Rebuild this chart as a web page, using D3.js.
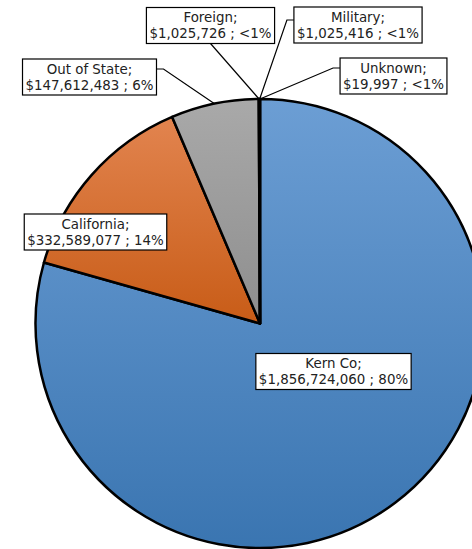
<!DOCTYPE html>
<html>
<head>
<meta charset="utf-8">
<script src="https://cdn.jsdelivr.net/npm/d3@7"></script>
<style>
  html, body { margin: 0; padding: 0; background: #fff; }
  svg { display: block; }
  text { font-family: "DejaVu Sans", sans-serif; font-size: 13.4px; fill: #222; }
</style>
</head>
<body>
<svg id="chart" width="472" height="549"></svg>
<script>
// Revenue by origin
const categories = ["Kern Co", "California", "Out of State", "Foreign", "Military", "Unknown"];
const amounts = [1856724060, 332589077, 147612483, 1025726, 1025416, 19997];
const shareLabels = ["80%", "14%", "6%", "<1%", "<1%", "<1%"];

// Slice fills: top and bottom stops of each vertical gradient
const gradientTop = ["#6c9ed4", "#e2844f", "#a9a9a9", "#6c9ed4", "#6c9ed4", "#6c9ed4"];
const gradientBottom = ["#3a75b1", "#c85c17", "#8e8e8e", "#3a75b1", "#3a75b1", "#3a75b1"];

// Label box placement: center, leader side and leader offset
const labelLayout = [
  { cx: 333.5, cy: 371.5, side: "none" },
  { cx: 95.5,  cy: 232,   side: "none" },
  { cx: 89.5,  cy: 77,    side: "right", dy: -8 },
  { cx: 210.5, cy: 25.5,  side: "bottom" },
  { cx: 358,   cy: 25,    side: "left", dy: -5 },
  { cx: 393.5, cy: 76,    side: "left", dy: -8 }
];

const svg = d3.select("#chart");
const cx = 260, cy = 323.5, radius = 224.5;

const fmt = d3.format("$,");
const data = categories.map((c, i) => ({ name: c, value: amounts[i], share: shareLabels[i], i }));

const pie = d3.pie().sort(null).value(d => d.value).startAngle(0).endAngle(2 * Math.PI);
const arcs = pie(data);
const arc = d3.arc().innerRadius(0).outerRadius(radius);

const defs = svg.append("defs");
data.forEach((d, i) => {
  const g = defs.append("linearGradient")
    .attr("id", "grad" + i)
    .attr("x1", 0).attr("y1", 0).attr("x2", 0).attr("y2", 1);
  g.append("stop").attr("offset", "0%").attr("stop-color", gradientTop[i]);
  g.append("stop").attr("offset", "100%").attr("stop-color", gradientBottom[i]);
});

const pieG = svg.append("g").attr("transform", `translate(${cx},${cy})`);
pieG.selectAll("path.slice")
  .data(arcs)
  .join("path")
  .attr("class", "slice")
  .attr("d", arc)
  .attr("fill", d => `url(#grad${d.data.i})`)
  .attr("stroke", "#000")
  .attr("stroke-width", 2.5)
  .attr("stroke-linejoin", "round");

// Labels
const labelG = svg.append("g");
const lineH = 16;

arcs.forEach((a, i) => {
  const lay = labelLayout[i];
  const g = labelG.append("g");
  const lines = [a.data.name + ";", fmt(a.data.value) + " ; " + a.data.share];

  const txt = g.append("text").attr("text-anchor", "middle");
  lines.forEach((l, k) => {
    txt.append("tspan")
      .attr("x", lay.cx)
      .attr("y", lay.cy - lineH / 2 + k * lineH + 4.5)
      .text(l);
  });

  const bb = txt.node().getBBox();
  const w = bb.width + 6;
  const h = lineH * 2 + 4;
  const x0 = lay.cx - w / 2, y0 = lay.cy - h / 2;

  // leader from box edge to slice edge at mid-angle
  if (lay.side !== "none") {
    const mid = (a.startAngle + a.endAngle) / 2;
    const px = cx + radius * Math.sin(mid);
    const py = cy - radius * Math.cos(mid);
    let pts;
    if (lay.side === "bottom") {
      pts = [[lay.cx, y0 + h], [px, py]];
    } else if (lay.side === "left") {
      const yy = lay.cy + lay.dy;
      pts = [[x0, yy], [x0 - 7, yy], [px, py]];
    } else {
      const yy = lay.cy + lay.dy;
      pts = [[x0 + w, yy], [x0 + w + 7, yy], [px, py]];
    }
    labelG.insert("path", ":first-child")
      .attr("d", d3.line()(pts))
      .attr("fill", "none")
      .attr("stroke", "#000")
      .attr("stroke-width", 1.2);
  }

  g.insert("rect", "text")
    .attr("x", x0).attr("y", y0)
    .attr("width", w).attr("height", h)
    .attr("fill", "#fff")
    .attr("stroke", "#000")
    .attr("stroke-width", 1.2);
});
</script>
</body>
</html>
